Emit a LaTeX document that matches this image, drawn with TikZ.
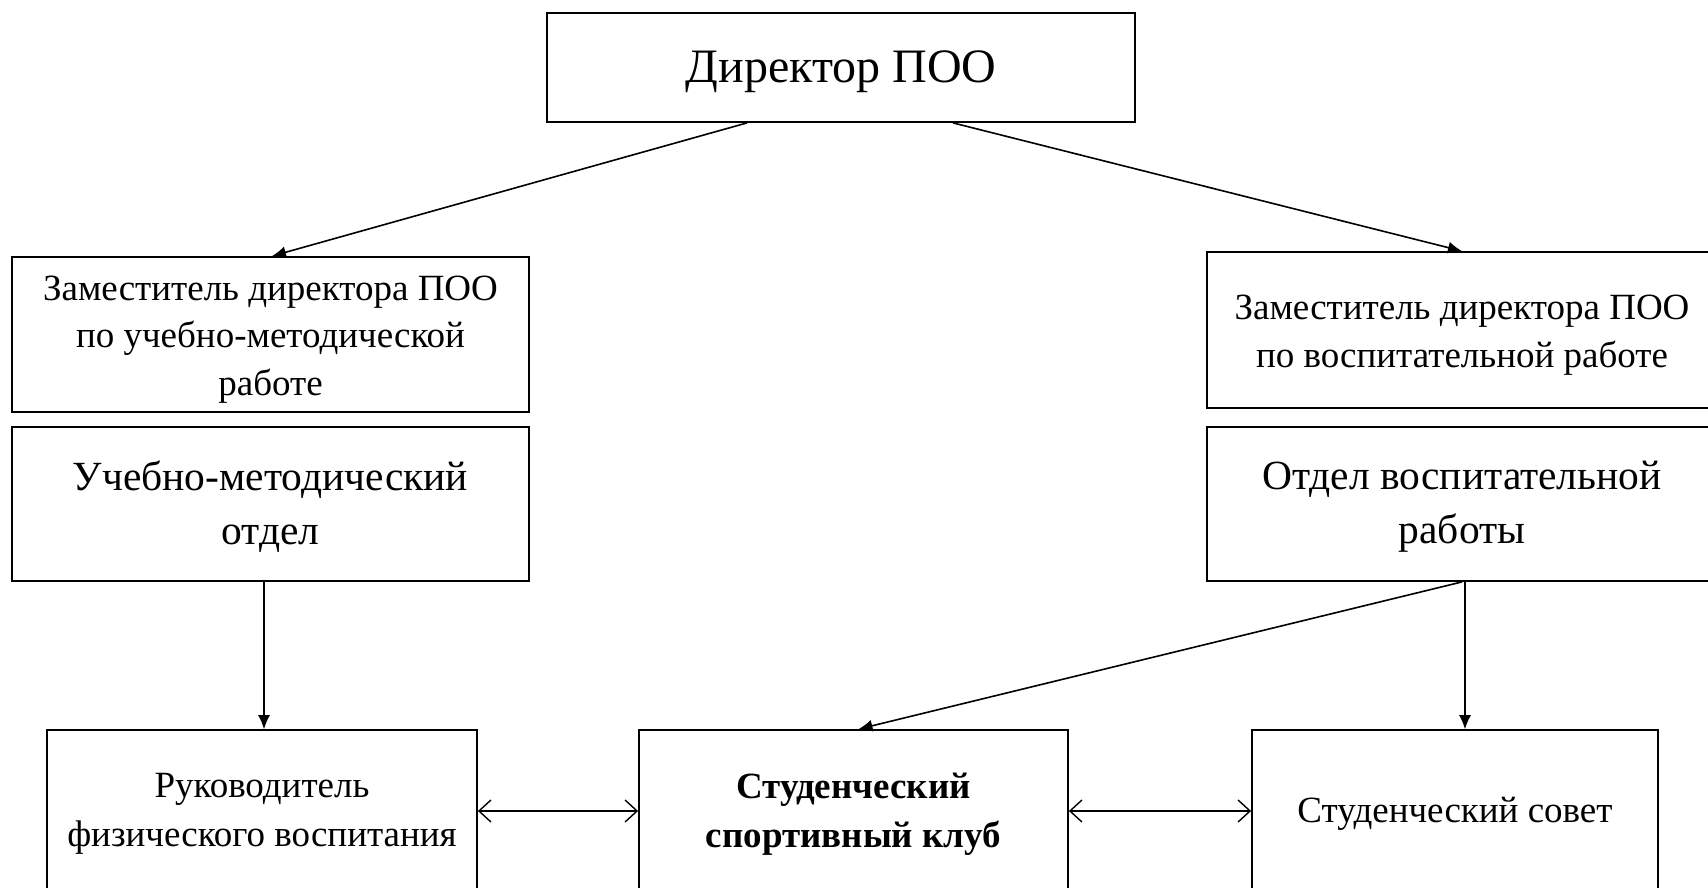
\documentclass[tikz,border=0pt]{standalone}
\usepackage{fontspec}
\setmainfont{Liberation Serif}
\usetikzlibrary{arrows.meta}
\begin{document}
\begin{tikzpicture}[x=1pt,y=-1pt,
  box/.style={draw, line width=1.8pt, rectangle, inner sep=0pt},
  txt/.style={align=center, inner sep=0pt},
  big/.style={txt, font=\fontsize{48}{56}\selectfont},
  mid/.style={txt, font=\fontsize{37}{47.5}\selectfont},
  dept/.style={txt, font=\fontsize{41.5}{54}\selectfont},
  low/.style={txt, font=\fontsize{37}{49}\selectfont},
  conn/.style={line width=1.6pt, -{Latex[length=14pt,width=12pt]}},
  vconn/.style={line width=1.1pt, -{Latex[length=14pt,width=12pt]}},
  dconn/.style={line width=1.6pt, {Straight Barb[length=12pt,width=22pt,line width=1.4pt]}-{Straight Barb[length=12pt,width=22pt,line width=1.4pt]}}
]
\useasboundingbox (0,0) rectangle (1708,888);
\clip (0,0) rectangle (1708,888);
\fill[white] (0,0) rectangle (1708,888);

\node[box, minimum width=588pt, minimum height=109pt] (dir) at (841,67.5) {};
\node[box, minimum width=517pt, minimum height=155pt] (ldep) at (270.5,334.5) {};
\node[box, minimum width=510pt, minimum height=156pt] (rdep) at (1462,330) {};
\node[box, minimum width=517pt, minimum height=154pt] (um) at (270.5,504) {};
\node[box, minimum width=510pt, minimum height=154pt] (ov) at (1462,504) {};
\node[box, minimum width=430pt, minimum height=162pt] (ruk) at (262,811) {};
\node[box, minimum width=429pt, minimum height=162pt] (club) at (853.5,811) {};
\node[box, minimum width=406pt, minimum height=162pt] (sov) at (1455,811) {};

\node[big] (dirt) at ([yshift=-4pt]dir.center) {Директор ПОО};
\node[mid] (ldept) at ([yshift=-5pt]ldep.center) {Заместитель директора ПОО\\по учебно-методической\\работе};
\node[mid] (rdept) at ([yshift=-5pt]rdep.center) {Заместитель директора ПОО\\по воспитательной работе};
\node[dept] (umt) at ([yshift=-3pt]um.center) {Учебно-методический\\отдел};
\node[dept] (ovt) at ([yshift=-3pt]ov.center) {Отдел воспитательной\\работы};
\node[low] (rukt) at ([yshift=-3pt]ruk.center) {Руководитель\\физического воспитания};
\node[low] (clubt) at ([yshift=-3pt]club.center) {\bfseries Студенческий\\\bfseries спортивный клуб};
\node[low] (sovt) at ([yshift=-3pt]sov.center) {Студенческий совет};

\draw[conn] ([xshift=-94pt]dir.south) -- ([xshift=1.5pt]ldep.north);
\draw[conn] ([xshift=112pt]dir.south) -- (rdep.north);
\draw[vconn] ([xshift=-6.5pt]um.south) -- ([xshift=2pt]ruk.north);
\draw[conn] (ov.south) -- ([xshift=5pt]club.north);
\draw[vconn] ([xshift=3pt]ov.south) -- ([xshift=10pt]sov.north);
\draw[dconn] (ruk.east) -- (club.west);
\draw[dconn] (club.east) -- (sov.west);
\end{tikzpicture}
\end{document}
